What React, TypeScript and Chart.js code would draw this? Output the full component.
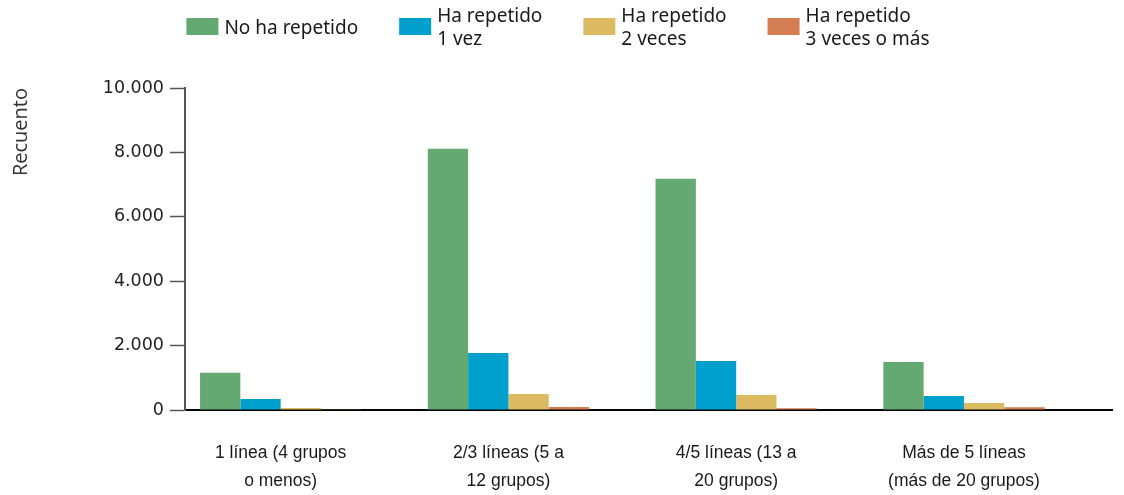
import React, { useEffect, useRef } from 'react';
import { Chart, registerables } from 'chart.js';

Chart.register(...registerables);

// ---- Data ----
const categories: string[][] = [
  ['1 línea (4 grupos', 'o menos)'],
  ['2/3 líneas (5 a', '12 grupos)'],
  ['4/5 líneas (13 a', '20 grupos)'],
  ['Más de 5 líneas', '(más de 20 grupos)'],
];
const seriesNames: string[][] = [
  ['No ha repetido'],
  ['Ha repetido', '1 vez'],
  ['Ha repetido', '2 veces'],
  ['Ha repetido', '3 veces o más'],
];
const noHaRepetido = [1160, 8110, 7180, 1490];
const repetido1Vez = [340, 1770, 1520, 435];
const repetido2Veces = [60, 500, 465, 220];
const repetido3OMas = [10, 95, 55, 85];
const yTickValues = [0, 2000, 4000, 6000, 8000, 10000];
const yTitle = 'Recuento';
const seriesColors = ['#64A872', '#00A0CE', '#DCBA62', '#D47C52'];

const seriesValues = [noHaRepetido, repetido1Vez, repetido2Veces, repetido3OMas];

const formatThousands = (v: number) =>
  String(v).replace(/\B(?=(\d{3})+(?!\d))/g, '.');

const topLegend = {
  id: 'topLegend',
  afterDraw(chart: any) {
    const ctx = chart.ctx as CanvasRenderingContext2D;
    ctx.save();
    ctx.font = '19px "Noto Sans"';
    ctx.textBaseline = 'middle';
    ctx.textAlign = 'left';
    const boxW = 32, boxH = 17, textGap = 6, itemGap = 41, lineH = 23, boxTop = 18;
    const items = chart.data.datasets.map((ds: any) => {
      const lines: string[] = ds.legendLines;
      const tw = Math.max(...lines.map((l) => ctx.measureText(l).width));
      return { lines, color: ds.backgroundColor, width: boxW + textGap + tw };
    });
    const total =
      items.reduce((a: number, it: any) => a + it.width, 0) + itemGap * (items.length - 1);
    let x = chart.width / 2 - total / 2 - 4;
    items.forEach((it: any) => {
      ctx.fillStyle = it.color;
      ctx.fillRect(x, boxTop, boxW, boxH);
      ctx.fillStyle = '#1a1a1a';
      const cy = boxTop + boxH / 2 + 2;
      const startY = cy - ((it.lines.length - 1) * lineH) / 2;
      it.lines.forEach((l: string, j: number) => {
        ctx.fillText(l, x + boxW + textGap, startY + j * lineH);
      });
      x += it.width + itemGap;
    });
    ctx.restore();
  },
};

export default function App() {
  const ref = useRef<HTMLCanvasElement | null>(null);

  useEffect(() => {
    if (!ref.current) return;
    const chart = new Chart(ref.current, {
      type: 'bar',
      data: {
        datasets: seriesValues.map((vals, k) => ({
          label: seriesNames[k].join(' '),
          legendLines: seriesNames[k],
          data: vals.map((v, i) => ({ x: i, y: v })),
          backgroundColor: seriesColors[k],
          borderWidth: 0,
          categoryPercentage: 0.708,
          barPercentage: 1,
        })) as any,
      },
      plugins: [topLegend],
      options: {
        animation: false,
        responsive: false,
        maintainAspectRatio: false,
        layout: { padding: { top: 88, right: 12, left: 0, bottom: 0 } },
        plugins: {
          legend: { display: false },
          tooltip: { enabled: false },
        },
        scales: {
          x: {
            type: 'linear',
            offset: false,
            min: -0.42,
            max: 3.65,
            afterBuildTicks: (s: any) => {
              s.ticks = categories.map((_, i) => ({ value: i }));
            },
            afterFit: (s: any) => {
              s.height = 85;
            },
            grid: { display: false, drawTicks: false, offset: false },
            border: { display: true, color: '#000', width: 2 },
            ticks: {
              autoSkip: false,
              maxRotation: 0,
              minRotation: 0,
              padding: 29,
              color: '#1a1a1a',
              font: { family: '"Liberation Sans", Arial, sans-serif', size: 17.5, lineHeight: 28 / 17.5 },
              callback: (v: any) => categories[Math.round(Number(v))] ?? '',
            },
          },
          y: {
            type: 'linear',
            min: 0,
            max: 10000,
            afterBuildTicks: (s: any) => {
              s.ticks = yTickValues.map((v) => ({ value: v }));
            },
            afterFit: (s: any) => {
              s.width = 185;
            },
            grid: {
              drawOnChartArea: false,
              drawTicks: true,
              tickLength: 15,
              tickColor: '#555',
              tickWidth: 1.5,
            },
            border: { display: true, color: '#555', width: 2 },
            ticks: {
              padding: 6,
              color: '#222',
              font: { family: '"DejaVu Sans", sans-serif', size: 17.5 },
              callback: (v: any) => formatThousands(Number(v)),
            },
            title: {
              display: true,
              text: yTitle,
              align: 'end',
              color: '#333',
              padding: { top: 9, bottom: 0 },
              font: { family: '"Open Sans", sans-serif', size: 20 },
            },
          },
        },
      } as any,
    });
    return () => chart.destroy();
  }, []);

  return (
    <div style={{ position: 'absolute', left: 0, top: 0, width: 1124, height: 495, background: '#fff' }}>
      <canvas ref={ref} width={1124} height={495} style={{ display: 'block' }} />
    </div>
  );
}
